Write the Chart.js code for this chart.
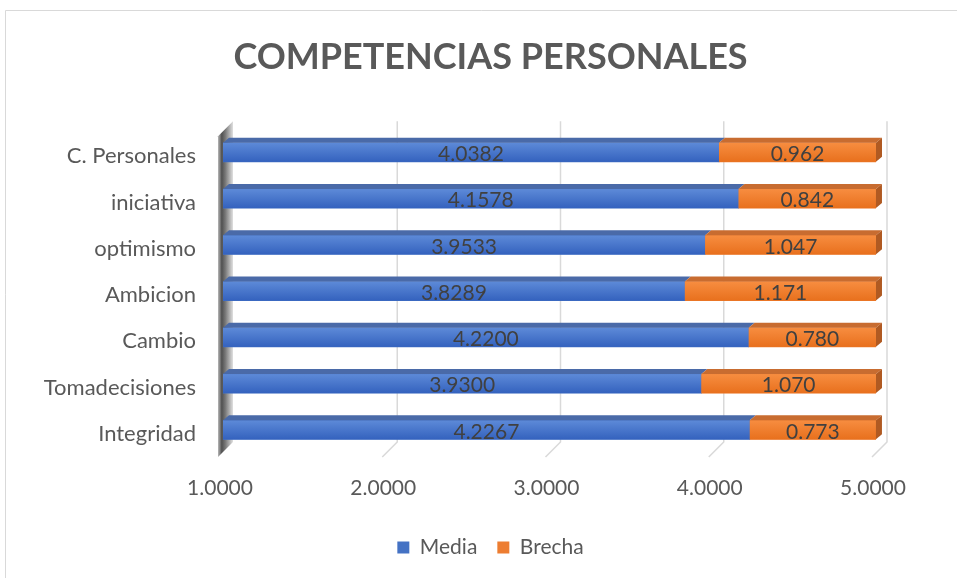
<!DOCTYPE html>
<html><head><meta charset="utf-8">
<script src="https://cdn.jsdelivr.net/npm/chart.js@4.4.1/dist/chart.umd.min.js"></script>
<style>html,body{margin:0;padding:0;background:#fff;} #wrap{width:957px;height:578px;position:relative;}</style>
</head><body><div id="wrap"><canvas id="c" width="957" height="578"></canvas></div>
<script>
const categories = ['C. Personales','iniciativa','optimismo','Ambicion','Cambio','Tomadecisiones','Integridad'];
const mediaValues = [4.0382,4.1578,3.9533,3.8289,4.2200,3.9300,4.2267];
const brechaValues = [0.962,0.842,1.047,1.171,0.780,1.070,0.773];
const xTicks = [1,2,3,4,5];
const seriesNames = ['Media','Brecha'];
const titleText = 'COMPETENCIAS PERSONALES';

const DX = 13, DY = 15;      // back-plane offset of grid
const BDX = 6, BDY = 5;      // bar depth
const CENTER_SHIFT = 50;     // title/legend centred on whole chart, not plot

const decor = {
  id:'decor',
  afterLayout(chart){
    [chart.titleBlock, chart.legend].forEach(b => {
      if (b) { b.left += CENTER_SHIFT; b.right += CENTER_SHIFT; }
    });
  },
  beforeDraw(chart){
    const ctx = chart.ctx;
    ctx.save();
    ctx.fillStyle = '#fff';
    ctx.fillRect(0,0,chart.width,chart.height);
    ctx.strokeStyle = '#d9d9d9';
    ctx.lineWidth = 1;
    ctx.beginPath();
    ctx.moveTo(5.5, chart.height); ctx.lineTo(5.5, 10.5); ctx.lineTo(chart.width, 10.5);
    ctx.stroke();
    ctx.restore();
  },
  beforeDatasetsDraw(chart){
    const ctx = chart.ctx, xs = chart.scales.x, a = chart.chartArea;
    const frontBottom = a.bottom + 4, backBottom = frontBottom - DY, backTop = a.top - 8;
    ctx.save();
    ctx.strokeStyle = '#d9d9d9';
    ctx.lineWidth = 1.5;
    xTicks.forEach((v,i) => {
      if (i === 0) return;
      const fx = xs.getPixelForValue(v) - 4;
      ctx.beginPath();
      ctx.moveTo(fx + DX + 2, backTop);
      ctx.lineTo(fx + DX + 2, backBottom);
      ctx.lineTo(fx, frontBottom);
      ctx.stroke();
    });
    // left wall
    const wx = xs.getPixelForValue(xTicks[0]) - 5;
    const g = ctx.createLinearGradient(wx, 0, wx + DX + 2, 0);
    g.addColorStop(0, '#b8b8b8');
    g.addColorStop(0.25, '#505050');
    g.addColorStop(0.5, '#7a7a7a');
    g.addColorStop(1, '#e0e0e0');
    ctx.fillStyle = g;
    ctx.beginPath();
    ctx.moveTo(wx, backTop + DY);
    ctx.lineTo(wx + DX + 2, backTop);
    ctx.lineTo(wx + DX + 2, backBottom);
    ctx.lineTo(wx, frontBottom);
    ctx.closePath();
    ctx.fill();
    ctx.restore();
  },
  afterDatasetsDraw(chart){
    const ctx = chart.ctx, a = chart.chartArea;
    const styles = [
      {c0:'#5d8ad8', c1:'#3462be', top:'#4a6aa8', side:'#2f4f8f'},
      {c0:'#f78d40', c1:'#e8701d', top:'#c86c30', side:'#b05a22'}
    ];
    const formats = [4, 3];
    const values = [mediaValues, brechaValues];
    ctx.save();
    chart.data.datasets.forEach((ds, di) => {
      const meta = chart.getDatasetMeta(di);
      const st = styles[di];
      meta.data.forEach((bar, i) => {
        const p = bar.getProps(['x','y','base','height'], true);
        const left = Math.max(Math.min(p.base, p.x), a.left);
        const right = Math.min(Math.max(p.base, p.x), a.right);
        const top = p.y - p.height/2, bot = p.y + p.height/2;
        const g = ctx.createLinearGradient(0, top, 0, bot);
        g.addColorStop(0, st.c0); g.addColorStop(1, st.c1);
        ctx.fillStyle = g;
        ctx.fillRect(left, top, right - left, bot - top);
        ctx.fillStyle = st.top;
        ctx.beginPath();
        ctx.moveTo(left, top); ctx.lineTo(right, top);
        ctx.lineTo(right + BDX, top - BDY); ctx.lineTo(left + BDX, top - BDY);
        ctx.closePath(); ctx.fill();
        if (di === chart.data.datasets.length - 1) {
          ctx.fillStyle = st.side;
          ctx.beginPath();
          ctx.moveTo(right, top); ctx.lineTo(right + BDX, top - BDY);
          ctx.lineTo(right + BDX, bot - BDY); ctx.lineTo(right, bot);
          ctx.closePath(); ctx.fill();
        }
        ctx.fillStyle = '#404040';
        ctx.font = '21px Lato';
        ctx.textAlign = 'center';
        ctx.textBaseline = 'middle';
        ctx.fillText(values[di][i].toFixed(formats[di]), (left + right)/2, p.y + 2);
      });
    });
    ctx.restore();
  }
};

new Chart(document.getElementById('c'), {
  type:'bar',
  data:{
    labels: categories,
    datasets:[
      {label: seriesNames[0], data: mediaValues, backgroundColor:'#4472C4', barThickness:19},
      {label: seriesNames[1], data: brechaValues, backgroundColor:'#ED7D31', barThickness:19}
    ]
  },
  options:{
    responsive:false, animation:false, indexAxis:'y',
    layout:{padding:{left:5,right:81,top:0,bottom:10}},
    scales:{
      x:{stacked:true, min:1, max:5,
         afterBuildTicks: s => { s.ticks = xTicks.map(v => ({value:v})); },
         grid:{display:false, drawTicks:false}, border:{display:false},
         ticks:{padding:23, labelOffset:-3, color:'#595959', font:{family:'Lato', size:21}, maxRotation:0, autoSkip:false,
                callback: v => Number(v).toFixed(4)},
         afterFit: s => { s.height = 64; }},
      y:{stacked:true, grid:{display:false, drawTicks:false}, border:{display:false},
         ticks:{padding:27, labelOffset:4, color:'#595959', font:{family:'Lato', size:22}},
         afterFit: s => { s.width = 218; }}
    },
    plugins:{
      title:{display:true, text:titleText, color:'#595959', font:{family:'Lato', size:36, weight:'bold'}, padding:{top:36, bottom:50}},
      legend:{position:'bottom', labels:{boxWidth:12, boxHeight:12, padding:20, color:'#595959', font:{family:'Lato', size:21}}},
      tooltip:{enabled:false}
    }
  },
  plugins:[decor]
});
</script></body></html>
